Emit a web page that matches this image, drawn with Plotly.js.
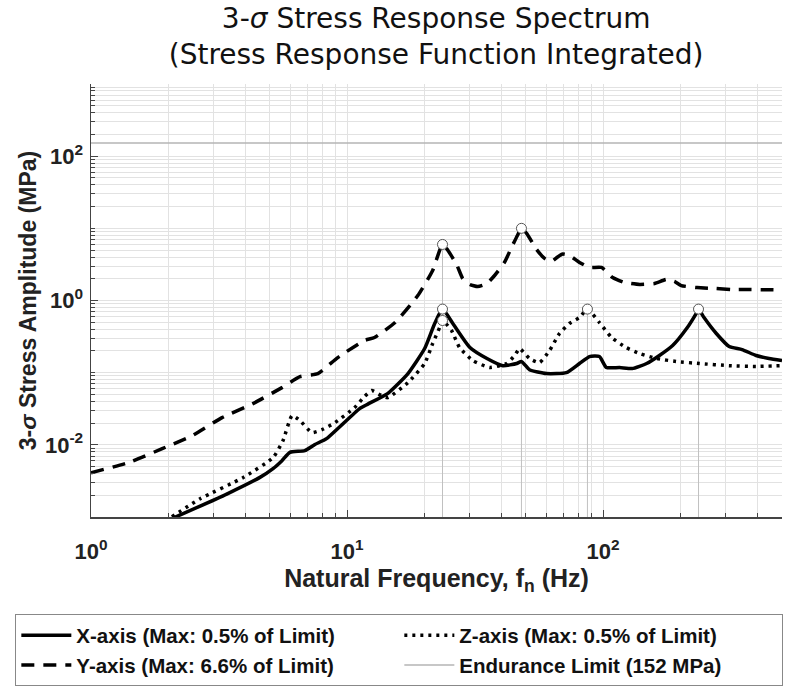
<!DOCTYPE html>
<html>
<head>
<meta charset="utf-8">
<script src="https://cdn.plot.ly/plotly-3.0.1.min.js"></script>
<style>html,body{margin:0;padding:0;background:#fff;}#chart{width:792px;height:696px;}</style>
</head>
<body>
<div id="chart"></div>
<script>
// X-axis response
const xFreq = [2.07, 3.39, 4.57, 5.14, 5.57, 5.98, 6.84, 7.49, 8.32, 11.2, 12.1, 14.4, 17.3, 20.1, 22.0, 23.6, 25.9, 30.2, 35.2, 40.6, 46.0, 48.0, 51.6, 60.1, 71.9, 80.9, 88.5, 96.8, 103, 116, 130, 148, 166, 187, 212, 231, 236, 248, 277, 311, 349, 396, 445, 500];
const xStress = [0.00095, 0.00208, 0.00354, 0.00468, 0.00604, 0.00787, 0.00831, 0.0101, 0.0122, 0.0318, 0.0369, 0.0513, 0.0972, 0.216, 0.48, 0.76, 0.48, 0.223, 0.157, 0.125, 0.134, 0.143, 0.110, 0.0972, 0.100, 0.134, 0.167, 0.167, 0.118, 0.118, 0.114, 0.134, 0.173, 0.238, 0.409, 0.66, 0.76, 0.581, 0.349, 0.230, 0.209, 0.173, 0.157, 0.147];
// Y-axis response
const yFreq = [1.0, 1.398, 1.897, 2.483, 3.25, 4.29, 5.57, 6.55, 7.69, 9.2, 11.7, 12.8, 15.4, 18.9, 21.6, 23.6, 24.8, 26.9, 28.3, 30.2, 32.4, 35.2, 37.7, 41.2, 43.9, 46.3, 48.0, 50.3, 55.0, 59.1, 62.9, 66.4, 69.5, 73.9, 80.9, 88.5, 98.6, 109, 121, 139, 159, 177, 190, 202, 233, 272, 319, 372, 500];
const yStress = [0.00411, 0.00566, 0.00885, 0.0134, 0.0238, 0.0373, 0.0621, 0.0883, 0.0972, 0.162, 0.279, 0.307, 0.495, 1.17, 2.61, 5.98, 4.94, 3.06, 2.02, 1.67, 1.56, 1.72, 2.22, 3.37, 5.43, 7.97, 10.0, 8.5, 5.10, 3.83, 3.47, 4.0, 4.4, 4.2, 3.37, 2.87, 2.87, 2.08, 1.78, 1.67, 1.72, 1.96, 1.84, 1.61, 1.51, 1.47, 1.42, 1.42, 1.40];
// Z-axis response
const zFreq = [2.07, 2.67, 3.92, 5.14, 5.62, 6.10, 6.55, 7.29, 7.98, 8.97, 10.7, 11.7, 12.5, 13.4, 14.4, 17.3, 20.1, 21.6, 23.0, 23.6, 25.6, 27.5, 31.0, 36.1, 42.0, 45.2, 47.2, 51.6, 56.5, 61.8, 67.6, 73.9, 80.9, 86.9, 96.8, 108, 123, 139, 162, 193, 238, 311, 396, 500];
const zStress = [0.00101, 0.00179, 0.00351, 0.00664, 0.0114, 0.0254, 0.0217, 0.0148, 0.0162, 0.0203, 0.0328, 0.0467, 0.0565, 0.0497, 0.0451, 0.0729, 0.134, 0.253, 0.422, 0.528, 0.384, 0.223, 0.147, 0.118, 0.134, 0.173, 0.216, 0.157, 0.138, 0.203, 0.349, 0.48, 0.581, 0.76, 0.495, 0.307, 0.223, 0.184, 0.157, 0.143, 0.134, 0.125, 0.122, 0.125];
// Peak markers
const peakFreq = [23.6, 48.0, 23.6, 23.6, 86.9, 236];
const peakStress = [5.98, 10.0, 0.76, 0.528, 0.76, 0.76];
// Endurance limit
const limitFreq = [1, 500];
const limitStress = [152, 152];
// Axis ticks
const xTickVals = [1, 10, 100];
const xTickText = ['10<sup>0</sup>', '10<sup>1</sup>', '10<sup>2</sup>'];
const yTickVals = [0.01, 1, 100];
const yTickText = ['10<sup>-2</sup>', '10<sup>0</sup>', '10<sup>2</sup>'];

const yMin = 0.001;
const stemX = [], stemY = [];
peakFreq.forEach((f, i) => { stemX.push(f, f, null); stemY.push(yMin, peakStress[i], null); });

function minorVals(lo, hi) {
  const out = [];
  for (let e = lo; e < hi; e++) for (let m = 1; m <= 9; m++) out.push(m * Math.pow(10, e));
  out.push(Math.pow(10, hi));
  return out;
}

const lw = 3.5;
const traces = [
  {x: stemX, y: stemY, mode: 'lines', line: {color: '#c0c0c0', width: 1}, showlegend: false, hoverinfo: 'skip'},
  {x: xFreq, y: xStress, mode: 'lines', name: 'X-axis (Max: 0.5% of Limit)', line: {color: '#000', width: lw, shape: 'spline', smoothing: 0.5}},
  {x: zFreq, y: zStress, mode: 'lines', name: 'Z-axis (Max: 0.5% of Limit)', line: {color: '#000', width: lw, dash: '3px,5px', shape: 'spline', smoothing: 0.5}},
  {x: yFreq, y: yStress, mode: 'lines', name: 'Y-axis (Max: 6.6% of Limit)', line: {color: '#000', width: lw, dash: '13px,9px', shape: 'spline', smoothing: 0.5}},
  {x: limitFreq, y: limitStress, mode: 'lines', name: 'Endurance Limit (152 MPa)', line: {color: '#b4b4b4', width: 1.5}},
  {x: peakFreq, y: peakStress, mode: 'markers', showlegend: false, marker: {symbol: 'circle', size: 10, color: '#fff', line: {color: '#555', width: 1}}}
];

const gridCol = '#e2e2e2';
const boldFont = 'Liberation Sans, Arial, sans-serif';
const layout = {
  width: 792, height: 696,
  margin: {l: 91, r: 10, t: 84, b: 179},
  paper_bgcolor: '#fff', plot_bgcolor: '#fff',
  title: {
    text: '3-<i>σ</i> Stress Response Spectrum<br>(Stress Response Function Integrated)',
    font: {family: 'DejaVu Sans, sans-serif', size: 28, color: '#111'},
    x: 0.5507, xanchor: 'center', y: 0.96, yanchor: 'top'
  },
  xaxis: {
    type: 'log', range: [0, Math.log10(500)], automargin: false,
    tickmode: 'array', tickvals: xTickVals, ticktext: xTickText,
    tickfont: {family: boldFont, size: 22, color: '#222', weight: 'bold'},
    ticklabelstandoff: 14,
    showgrid: true, gridcolor: gridCol, gridwidth: 1,
    minor: {tickmode: 'array', tickvals: minorVals(0, 3), showgrid: true, gridcolor: gridCol, ticks: 'inside', ticklen: 4, tickcolor: '#444'},
    ticks: 'inside', ticklen: 7, tickcolor: '#444',
    showline: true, linecolor: '#444', linewidth: 1.5, mirror: false, zeroline: false,
    title: {text: 'Natural Frequency, f<sub>n</sub> (Hz)', font: {family: boldFont, size: 25, color: '#222', weight: 'bold'}, standoff: 6}
  },
  yaxis: {
    type: 'log', range: [-3, 3], automargin: false,
    tickmode: 'array', tickvals: yTickVals, ticktext: yTickText,
    tickfont: {family: boldFont, size: 22, color: '#222', weight: 'bold'},
    ticklabelstandoff: 2,
    showgrid: true, gridcolor: gridCol, gridwidth: 1,
    minor: {tickmode: 'array', tickvals: minorVals(-3, 3), showgrid: true, gridcolor: gridCol, ticks: 'inside', ticklen: 4, tickcolor: '#444'},
    ticks: 'inside', ticklen: 7, tickcolor: '#444',
    showline: true, linecolor: '#444', linewidth: 1.5, mirror: false, zeroline: false,
    title: {text: '3-<i>σ</i> Stress Amplitude (MPa)', font: {family: boldFont, size: 23, color: '#222', weight: 'bold'}, standoff: 2}
  },
  showlegend: true,
  legend: {
    orientation: 'h', x: -0.1095, xanchor: 'left', y: -0.225, yanchor: 'top',
    bgcolor: '#fff', bordercolor: '#888', borderwidth: 1,
    font: {family: boldFont, size: 20.5, color: '#111', weight: 'bold'},
    entrywidth: 318, entrywidthmode: 'pixels', itemwidth: 50,
    traceorder: 'normal'
  }
};

Plotly.newPlot('chart', traces, layout, {staticPlot: true, displayModeBar: false});
</script>
</body>
</html>
